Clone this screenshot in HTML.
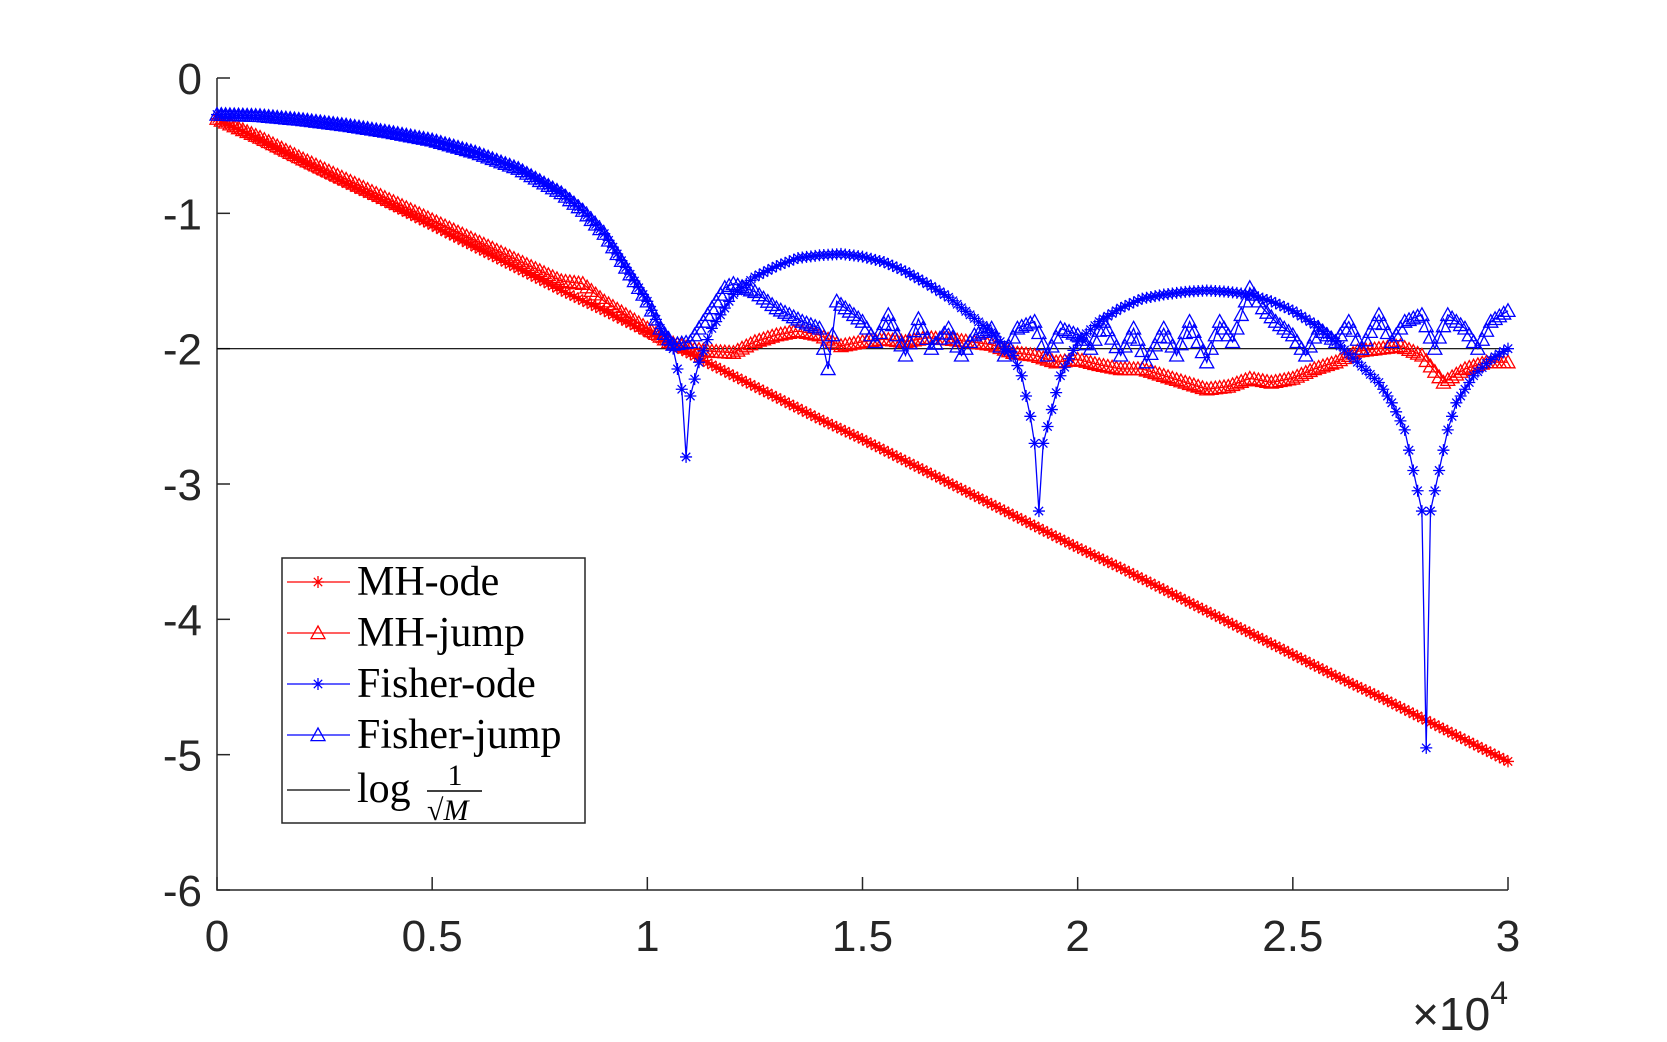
<!DOCTYPE html>
<html><head><meta charset="utf-8"><style>
html,body{margin:0;padding:0;background:#fff;}
svg{display:block;}
</style></head><body>
<svg id="chart" width="1667" height="1042" xmlns="http://www.w3.org/2000/svg">
<rect x="0" y="0" width="1667" height="1042" fill="#fff"/>
<g id="grid"></g>
<g id="series"></g>
<g id="legend"></g>
</svg>
<script>
// ---- data ----
const xTicks = [0, 0.5, 1, 1.5, 2, 2.5, 3];
const xTickLabels = ['0','0.5','1','1.5','2','2.5','3'];
const yTicks = [0, -1, -2, -3, -4, -5, -6];
const yTickLabels = ['0','-1','-2','-3','-4','-5','-6'];
const refLevel = -2;

const mhOdeX = [0,0.1,0.2,0.3,0.4,0.5,0.6,0.7,0.8,0.9,1.0,1.1,1.2,1.3,1.4,1.5,1.6,1.7,1.8,1.9,2.0,2.1,2.2,2.3,2.4,2.5,2.6,2.7,2.8,2.9,3.0];
const mhOdeY = [-0.3,-0.46,-0.62,-0.78,-0.93,-1.09,-1.25,-1.41,-1.57,-1.72,-1.88,-2.04,-2.2,-2.36,-2.52,-2.67,-2.83,-2.99,-3.15,-3.31,-3.47,-3.62,-3.78,-3.94,-4.1,-4.26,-4.42,-4.57,-4.73,-4.89,-5.05];

const mhJumpX = [0,0.1,0.2,0.3,0.4,0.5,0.6,0.7,0.8,0.85,0.9,0.95,1.0,1.05,1.1,1.15,1.2,1.25,1.3,1.35,1.4,1.45,1.5,1.55,1.6,1.65,1.7,1.75,1.8,1.85,1.9,1.95,2.0,2.05,2.1,2.15,2.2,2.25,2.3,2.35,2.4,2.45,2.5,2.55,2.6,2.65,2.7,2.75,2.8,2.85,2.9,2.95,3.0];
const mhJumpY = [-0.3,-0.44,-0.6,-0.75,-0.9,-1.05,-1.2,-1.35,-1.5,-1.52,-1.65,-1.75,-1.85,-1.95,-2.0,-2.02,-2.03,-1.95,-1.9,-1.87,-1.9,-1.98,-1.95,-1.93,-1.95,-1.92,-1.93,-1.95,-1.97,-2.03,-2.05,-2.1,-2.08,-2.12,-2.15,-2.15,-2.2,-2.25,-2.3,-2.28,-2.22,-2.25,-2.22,-2.15,-2.1,-2.02,-2.0,-1.98,-2.05,-2.25,-2.15,-2.1,-2.1];

const fisherOdeX = [0,0.1,0.2,0.3,0.4,0.5,0.6,0.7,0.8,0.85,0.9,0.95,1.0,1.03,1.06,1.08,1.09,1.1,1.12,1.15,1.2,1.25,1.3,1.35,1.4,1.45,1.5,1.55,1.6,1.65,1.7,1.75,1.8,1.85,1.87,1.89,1.9,1.91,1.92,1.94,1.96,2.0,2.05,2.1,2.15,2.2,2.25,2.3,2.35,2.4,2.45,2.5,2.55,2.6,2.65,2.7,2.73,2.76,2.78,2.8,2.81,2.82,2.84,2.86,2.88,2.92,2.96,3.0];
const fisherOdeY = [-0.27,-0.28,-0.31,-0.35,-0.4,-0.46,-0.55,-0.67,-0.85,-0.98,-1.15,-1.4,-1.65,-1.85,-2.0,-2.3,-2.8,-2.35,-2.1,-1.85,-1.6,-1.47,-1.39,-1.33,-1.31,-1.3,-1.32,-1.36,-1.43,-1.52,-1.62,-1.75,-1.88,-2.05,-2.2,-2.5,-2.7,-3.2,-2.7,-2.45,-2.2,-1.95,-1.8,-1.7,-1.63,-1.6,-1.58,-1.57,-1.58,-1.6,-1.65,-1.72,-1.82,-1.95,-2.1,-2.25,-2.4,-2.6,-2.9,-3.2,-4.95,-3.2,-2.9,-2.6,-2.4,-2.2,-2.08,-2.0];

const fisherJumpX = [0,0.1,0.2,0.3,0.4,0.5,0.6,0.7,0.8,0.85,0.9,0.95,1.0,1.03,1.06,1.1,1.13,1.15,1.18,1.2,1.25,1.3,1.33,1.36,1.4,1.42,1.44,1.46,1.5,1.53,1.56,1.6,1.63,1.66,1.7,1.73,1.76,1.8,1.83,1.86,1.9,1.93,1.96,2.0,2.03,2.06,2.1,2.13,2.16,2.2,2.23,2.26,2.3,2.33,2.36,2.4,2.43,2.46,2.5,2.53,2.56,2.6,2.63,2.66,2.7,2.73,2.76,2.8,2.83,2.86,2.9,2.93,2.96,3.0];
const fisherJumpY = [-0.27,-0.28,-0.31,-0.35,-0.4,-0.46,-0.55,-0.67,-0.85,-0.98,-1.15,-1.4,-1.65,-1.85,-1.97,-1.95,-1.8,-1.7,-1.55,-1.52,-1.58,-1.7,-1.75,-1.8,-1.85,-2.15,-1.65,-1.7,-1.8,-1.95,-1.75,-2.05,-1.78,-2.0,-1.85,-2.05,-1.9,-1.85,-2.05,-1.85,-1.8,-2.05,-1.85,-1.9,-2.0,-1.8,-2.05,-1.85,-2.1,-1.85,-2.05,-1.8,-2.1,-1.8,-1.95,-1.55,-1.7,-1.8,-1.9,-2.05,-1.85,-1.95,-1.8,-2.0,-1.75,-1.95,-1.8,-1.75,-2.0,-1.75,-1.85,-2.0,-1.8,-1.72];

// ---- axes ----
const L=217,R=1508,T=78,B=890;
const xMin=0,xMax=3,yMin=-6,yMax=0;
function sx(v){return L+(v-xMin)/(xMax-xMin)*(R-L);}
function sy(v){return T+(yMax-v)/(yMax-yMin)*(B-T);}
const NS='http://www.w3.org/2000/svg';
function mk(tag,attrs,parent){const e=document.createElementNS(NS,tag);for(const k in attrs)e.setAttribute(k,attrs[k]);parent.appendChild(e);return e;}

const grid=document.getElementById('grid');
let ax=mk('path',{d:`M${L},${T}V${B}H${R}`,fill:'none',stroke:'#262626','stroke-width':1.5},grid);


xTicks.forEach((t,i)=>{
  const x=sx(t);
  const tk=mk('line',{x1:x,x2:x,y1:B,y2:B-13,stroke:'#262626','stroke-width':1.5},grid);
  
  
  const lb=mk('text',{x:x,y:B+61,'text-anchor':'middle','font-family':'Liberation Sans, sans-serif','font-size':44,fill:'#262626'},grid);
  lb.textContent=xTickLabels[i];
  
  
});
yTicks.forEach((t,i)=>{
  const y=sy(t);
  const tk=mk('line',{x1:L,x2:L+13,y1:y,y2:y,stroke:'#262626','stroke-width':1.5},grid);
  
  
  const lb=mk('text',{x:L-15,y:y+16,'text-anchor':'end','font-family':'Liberation Sans, sans-serif','font-size':44,fill:'#262626'},grid);
  lb.textContent=yTickLabels[i];
  
  
});
const ex=mk('text',{x:1508,y:1030,'text-anchor':'end','font-family':'Liberation Sans, sans-serif','font-size':46,fill:'#262626'},grid);
ex.innerHTML='×10<tspan font-size="32" dy="-26">4</tspan>';



// ---- series ----
const sg=document.getElementById('series');
const rl=mk('line',{x1:L,x2:R,y1:sy(refLevel),y2:sy(refLevel),stroke:'#000','stroke-width':1.2},sg);



function star(g,x,y,c,s){
  mk('path',{d:`M${x-s},${y}H${x+s}M${x},${y-s}V${y+s}M${x-s*0.7},${y-s*0.7}L${x+s*0.7},${y+s*0.7}M${x-s*0.7},${y+s*0.7}L${x+s*0.7},${y-s*0.7}`,stroke:c,'stroke-width':1.3,fill:'none'},g);
}
function tri(g,x,y,c,s){
  mk('path',{d:`M${x},${y-s}L${x+s},${y+s*0.8}L${x-s},${y+s*0.8}Z`,stroke:c,'stroke-width':1.3,fill:'none'},g);
}
function drawSeries(xs,ys,color,marker,name){
  const g=mk('g',{},sg);
  
  
  const d=xs.map((x,i)=>(i?'L':'M')+sx(x).toFixed(1)+','+sy(ys[i]).toFixed(1)).join('');
  mk('path',{d:d,fill:'none',stroke:color,'stroke-width':1.3},g);
  // markers at even x spacing (MATLAB sampling every ~100 units)
  for(let i=0;i<xs.length;i++){
    const px=sx(xs[i]),py=sy(ys[i]);
    if(marker==='star')star(g,px,py,color,6);else tri(g,px,py,color,7);
    if(i<xs.length-1){
      const qx=sx(xs[i+1]),qy=sy(ys[i+1]);
      const n=Math.max(1,Math.round((qx-px)/4.3));
      for(let k=1;k<n;k++){
        const mx=px+(qx-px)*k/n,my=py+(qy-py)*k/n;
        if(marker==='star')star(g,mx,my,color,6);else tri(g,mx,my,color,7);
      }
    }
  }
}
drawSeries(mhOdeX,mhOdeY,'#ff0000','star','mh-ode-series');
drawSeries(mhJumpX,mhJumpY,'#ff0000','tri','mh-jump-series');
drawSeries(fisherOdeX,fisherOdeY,'#0000ff','star','fisher-ode-series');
drawSeries(fisherJumpX,fisherJumpY,'#0000ff','tri','fisher-jump-series');

// ---- legend ----
const lg=document.getElementById('legend');
const box=mk('rect',{x:282,y:558,width:303,height:265,fill:'#fff',stroke:'#262626','stroke-width':1.5},lg);


const entries=[['MH-ode','#ff0000','star',582],['MH-jump','#ff0000','tri',633],['Fisher-ode','#0000ff','star',684],['Fisher-jump','#0000ff','tri',735]];
entries.forEach(e=>{
  const g=mk('g',{},lg);
  
  
  mk('line',{x1:287,x2:350,y1:e[3],y2:e[3],stroke:e[1],'stroke-width':1.3},g);
  if(e[2]==='star')star(g,318,e[3],e[1],6);else tri(g,318,e[3],e[1],7);
  const t=mk('text',{x:357,y:e[3]+13,'font-family':'Liberation Serif, serif','font-size':42,fill:'#000'},g);
  t.textContent=e[0];
});
const g5=mk('g',{},lg);


mk('line',{x1:287,x2:350,y1:790,y2:790,stroke:'#000','stroke-width':1.3},g5);
const lt=mk('text',{x:357,y:802,'font-family':'Liberation Serif, serif','font-size':42,fill:'#000'},g5);
lt.textContent='log';
const one=mk('text',{x:455,y:785,'text-anchor':'middle','font-family':'Liberation Serif, serif','font-size':30,fill:'#000'},g5);
one.textContent='1';
mk('line',{x1:427,x2:482,y1:791,y2:791,stroke:'#000','stroke-width':1.5},g5);
const sq=mk('text',{x:427,y:820,'font-family':'Liberation Serif, serif','font-size':30,fill:'#000'},g5);
sq.innerHTML='√<tspan font-style="italic">M</tspan>';
</script>
</body></html>
